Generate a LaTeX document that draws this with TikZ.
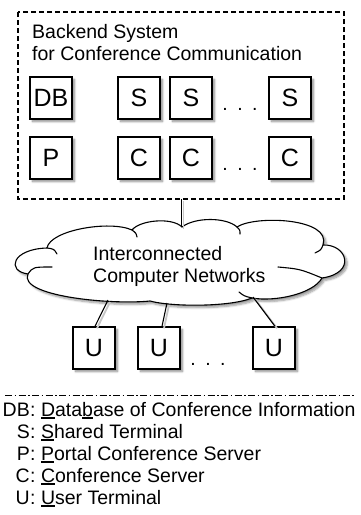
\documentclass[tikz,border=0pt]{standalone}
\usepackage{fontspec}
\setmainfont{Liberation Sans}
\usetikzlibrary{shadows.blur,calc}

% thick underline under an abbreviation letter
\newcommand\ulchar[1]{\leavevmode\vtop{\hbox{#1}\kern1.3pt\hrule height 1.7pt}}

\tikzset{
  unit/.style={draw, line width=1.4pt, fill=white, minimum width=42pt,
    minimum height=42pt, inner sep=0pt, font=\fontsize{25}{27}\selectfont,
    blur shadow={shadow xshift=2.5pt, shadow yshift=-2.5pt,
      shadow blur radius=2pt, shadow blur steps=6, shadow opacity=45}},
  txt/.style={inner sep=0pt, font=\fontsize{19.5}{22.5}\selectfont, align=left},
  ellip/.style={inner sep=0pt, font=\fontsize{19.5}{22}\selectfont},
  wire/.style={line width=1.1pt,
    preaction={draw=black!22, line width=1.8pt,
      transform canvas={xshift=2pt, yshift=-2pt}}},
  cloudline/.style={line width=1.1pt, line cap=round},
}

\begin{document}
\begin{tikzpicture}[x=1pt, y=-1pt]
\useasboundingbox (0,0) rectangle (361,515);

% backend system frame
\draw[line width=1.3pt, dash pattern=on 5pt off 3pt] (18,12) rectangle (344,199);
\node[txt, anchor=north west] (title) at (32,24)
  {Backend System\\for Conference Communication};

% servers and terminals of the backend
\node[unit] (db) at (51,98) {DB};
\node[unit] (s1) at (139,98) {S};
\node[unit] (s2) at (191,98) {S};
\node[unit] (s3) at (290,98) {S};
\node[unit] (p)  at (51,158) {P};
\node[unit] (c1) at (139,158) {C};
\node[unit] (c2) at (191,158) {C};
\node[unit] (c3) at (290,158) {C};
\node[ellip, anchor=base] (sdots) at (240,110) {.\hspace{9.5pt}.\hspace{9.5pt}.};
\node[ellip, anchor=base] (cdots) at (240,170) {.\hspace{9.5pt}.\hspace{9.5pt}.};

% network cloud
\path[fill=white, blur shadow={shadow xshift=2.5pt, shadow yshift=-2.5pt,
      shadow blur radius=2pt, shadow blur steps=6, shadow opacity=40}]
  (47,248) .. controls (50,230) and (110,220) .. (132,230)
  .. controls (140,220) and (172,217) .. (182,227)
  .. controls (195,217) and (226,217) .. (237,227)
  .. controls (255,215) and (332,218) .. (323,245)
  .. controls (347,244) and (357,273) .. (322,278)
  .. controls (313,294) and (275,302) .. (252,298)
  .. controls (230,307) and (172,307) .. (150,301)
  .. controls (110,305) and (18,296) .. (28,274)
  .. controls (6,271) and (12,249) .. (47,248) -- cycle;
\draw[cloudline]
  (47,248) .. controls (50,230) and (110,220) .. (132,230)
  .. controls (140,220) and (172,217) .. (182,227)
  .. controls (195,217) and (226,217) .. (237,227)
  .. controls (255,215) and (332,218) .. (323,245)
  .. controls (347,244) and (357,273) .. (322,278)
  .. controls (313,294) and (275,302) .. (252,298)
  .. controls (230,307) and (172,307) .. (150,301)
  .. controls (110,305) and (18,296) .. (28,274)
  .. controls (6,271) and (12,249) .. (47,248);
% inward curls of the cloud outline
\draw[cloudline] (47,248) .. controls (54,249) .. (57,254);
\draw[cloudline] (132,230) .. controls (136,233) .. (137,237);
\draw[cloudline] (237,227) .. controls (240,230) .. (240,234);
\draw[cloudline] (323,245) .. controls (321,250) .. (315,253);
\draw[cloudline] (322,278) .. controls (300,269) .. (278,267);
\draw[cloudline] (252,298) .. controls (244,296) .. (239,292);
\draw[cloudline] (28,274) .. controls (33,267) .. (52,267);
\node[txt, anchor=north west] (net) at (93,246)
  {Interconnected\\Computer Networks};

\coordinate (ctop) at (181.5,227);
\coordinate (cu1) at (108,300);
\coordinate (cu2) at (167,303);
\coordinate (cu3) at (253,297);

% user terminals
\node[unit] (u1) at (94,348) {U};
\node[unit] (u2) at (159,348) {U};
\node[unit] (u3) at (274,348) {U};
\node[ellip, anchor=base] (udots) at (208,365) {.\hspace{9.5pt}.\hspace{9.5pt}.};

% connectors
\draw[wire, line width=1.7pt] (ctop) -- (181.5,199);
\draw[wire] (cu1) -- ([xshift=1pt]u1.north);
\draw[wire] (cu2) -- ([xshift=3pt]u2.north);
\draw[wire] (cu3) -- ([xshift=1pt]u3.north);

% legend
\draw[line width=0.9pt, dash pattern=on 7pt off 2.5pt on 1.5pt off 2.5pt] (5,395) -- (355,395);
\node[txt, anchor=base east] (kdb) at (30,416) {DB};
\node[txt, anchor=base west] (ddb) at (30,416) {:\ \ulchar{D}ata\ulchar{b}ase of Conference Information};
\node[txt, anchor=base east] (ks) at (30,438) {S};
\node[txt, anchor=base west] (ds) at (30,438) {:\ \ulchar{S}hared Terminal};
\node[txt, anchor=base east] (kp) at (30,460) {P};
\node[txt, anchor=base west] (dp) at (30,460) {:\ \ulchar{P}ortal Conference Server};
\node[txt, anchor=base east] (kc) at (30,482) {C};
\node[txt, anchor=base west] (dc) at (30,482) {:\ \ulchar{C}onference Server};
\node[txt, anchor=base east] (ku) at (30,504) {U};
\node[txt, anchor=base west] (du) at (30,504) {:\ \ulchar{U}ser Terminal};
\end{tikzpicture}
\end{document}
